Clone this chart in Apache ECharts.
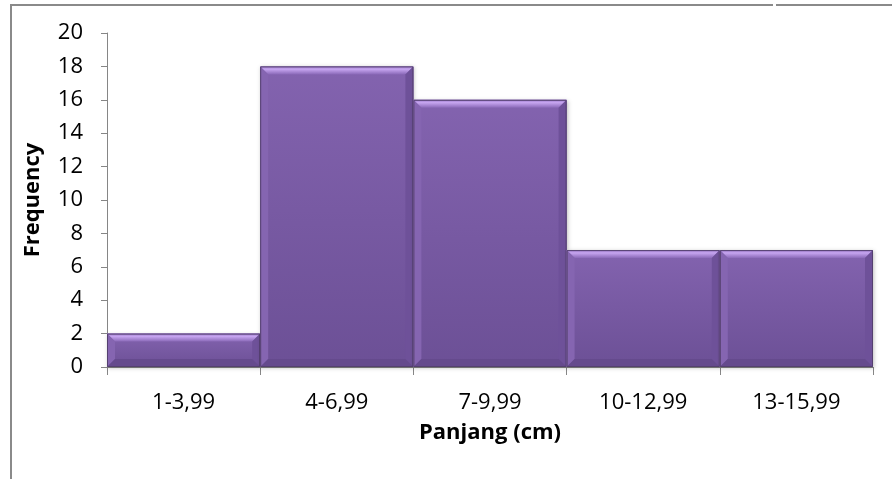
<!DOCTYPE html>
<html>
<head>
<meta charset="utf-8">
<style>
  html, body { margin: 0; padding: 0; background: #fff; }
  #chart { width: 892px; height: 479px; }
</style>
<script src="https://cdn.jsdelivr.net/npm/echarts@6/dist/echarts.min.js"></script>
</head>
<body>
<div id="chart"></div>
<script>
// Length classes (cm) and how many specimens fall in each
const categories = ['1-3,99', '4-6,99', '7-9,99', '10-12,99', '13-15,99'];
const frequency = [2, 18, 16, 7, 7];
const yTicks = { min: 0, max: 20, interval: 2 };

const FONT = '"Open Sans", Lato, sans-serif';
const AXIS_GREY = '#868686';

// Beveled bar: face plus four sloped edges, all placed via the axis scales
function renderBevelBar(params, api) {
  const idx = api.value(0);
  const val = api.value(1);
  const top = api.coord([idx, val]);
  const base = api.coord([idx, 0]);
  const w = api.size([1, 0])[0];
  const x0 = top[0] - w / 2, x1 = top[0] + w / 2;
  const y0 = top[1], y1 = base[1];
  const b = Math.min(8, (y1 - y0) / 3);
  const face = {
    type: 'linear', x: 0, y: 0, x2: 0, y2: 1,
    colorStops: [{ offset: 0, color: '#8363AF' }, { offset: 1, color: '#6C5096' }]
  };
  const poly = (pts, fill) => ({ type: 'polygon', shape: { points: pts }, style: { fill: fill } });
  return {
    type: 'group',
    children: [
      { type: 'rect', shape: { x: x0, y: y0, width: w, height: y1 - y0 },
        style: { fill: face, shadowBlur: 4, shadowOffsetX: 1, shadowOffsetY: 1, shadowColor: 'rgba(0,0,0,0.25)' } },
      // top edge highlight
      poly([[x0, y0], [x1, y0], [x1 - b, y0 + b], [x0 + b, y0 + b]], {
        type: 'linear', x: 0, y: 0, x2: 0, y2: 1,
        colorStops: [{ offset: 0, color: '#9C7ACB' }, { offset: 0.35, color: '#C6A5F0' }, { offset: 1, color: '#8A69B8' }]
      }),
      // left edge
      poly([[x0, y0], [x0 + b, y0 + b], [x0 + b, y1 - b], [x0, y1]], '#8565B1'),
      // right edge
      poly([[x1, y0], [x1, y1], [x1 - b, y1 - b], [x1 - b, y0 + b]], '#6E5199'),
      // bottom edge
      poly([[x0, y1], [x0 + b, y1 - b], [x1 - b, y1 - b], [x1, y1]], '#654A8D'),
      // outline
      { type: 'rect', shape: { x: x0 + 0.5, y: y0 + 0.5, width: w - 1, height: y1 - y0 - 1 },
        style: { fill: null, stroke: '#54406F', lineWidth: 1 } }
    ]
  };
}

const chart = echarts.init(document.getElementById('chart'), null, { renderer: 'canvas' });
chart.setOption({
  backgroundColor: '#ffffff',
  animation: false,
  grid: { left: 107, right: 19, top: 33, bottom: 112 },
  xAxis: {
    type: 'category',
    data: categories,
    boundaryGap: true,
    name: 'Panjang (cm)',
    nameLocation: 'middle',
    nameGap: 55,
    nameTextStyle: { fontFamily: FONT, fontSize: 22, fontWeight: 'bold', color: '#000' },
    axisLine: { lineStyle: { color: AXIS_GREY, width: 1 } },
    axisTick: { show: true, length: 8, lineStyle: { color: AXIS_GREY } },
    axisLabel: { fontFamily: FONT, fontSize: 22, color: '#000', margin: 25 },
    splitLine: { show: false }
  },
  yAxis: {
    type: 'value',
    min: yTicks.min, max: yTicks.max, interval: yTicks.interval,
    name: 'Frequency',
    nameLocation: 'middle',
    nameRotate: 90,
    nameGap: 63,
    nameTextStyle: { fontFamily: FONT, fontSize: 22, fontWeight: 'bold', color: '#000' },
    axisLine: { show: true, lineStyle: { color: AXIS_GREY, width: 1 } },
    axisTick: { show: true, length: 6, lineStyle: { color: AXIS_GREY } },
    axisLabel: { fontFamily: FONT, fontSize: 22, color: '#000', margin: 24 },
    splitLine: { show: false }
  },
  graphic: [
    { type: 'line', shape: { x1: 10, y1: 5, x2: 773, y2: 5 }, style: { stroke: '#8a8a8a', lineWidth: 2 } },
    { type: 'line', shape: { x1: 776, y1: 5, x2: 892, y2: 5 }, style: { stroke: '#8a8a8a', lineWidth: 2 } },
    { type: 'line', shape: { x1: 11, y1: 4, x2: 11, y2: 479 }, style: { stroke: '#8a8a8a', lineWidth: 2 } }
  ],
  series: [{
    type: 'custom',
    renderItem: renderBevelBar,
    encode: { x: 0, y: 1 },
    data: frequency.map((v, i) => [i, v])
  }]
});
</script>
</body>
</html>
